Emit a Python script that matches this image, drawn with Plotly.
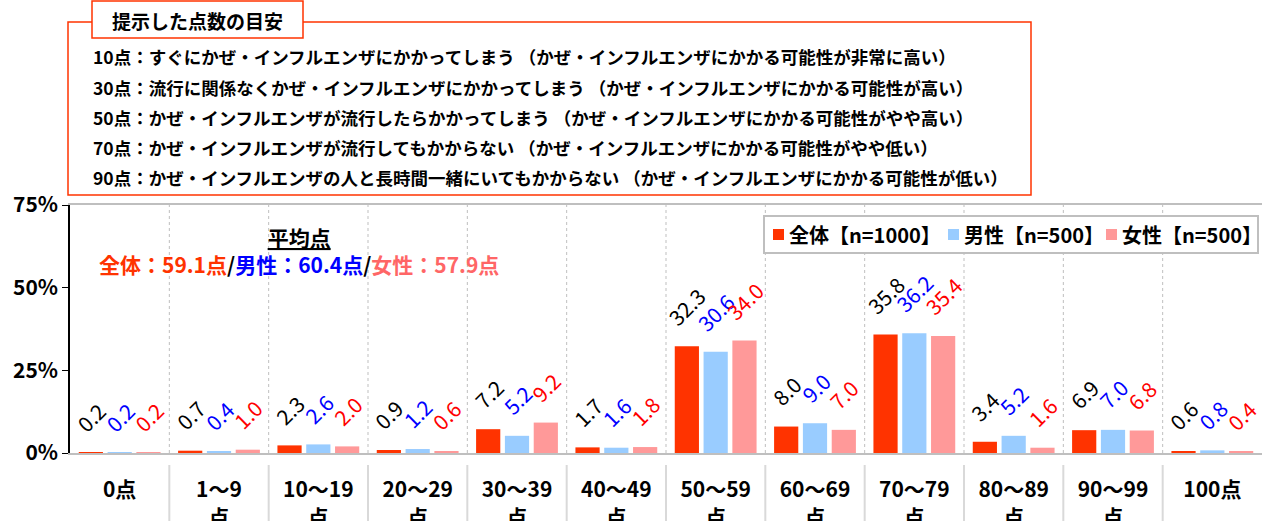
import plotly.graph_objects as go

# ---------------- data ----------------
categories = ["0点", "1～9<br>点", "10～19<br>点", "20～29<br>点", "30～39<br>点", "40～49<br>点",
              "50～59<br>点", "60～69<br>点", "70～79<br>点", "80～89<br>点", "90～99<br>点", "100点"]
total = [0.2, 0.7, 2.3, 0.9, 7.2, 1.7, 32.3, 8.0, 35.8, 3.4, 6.9, 0.6]
male = [0.2, 0.4, 2.6, 1.2, 5.2, 1.6, 30.6, 9.0, 36.2, 5.2, 7.0, 0.8]
female = [0.2, 1.0, 2.0, 0.6, 9.2, 1.8, 34.0, 7.0, 35.4, 1.6, 6.8, 0.4]
series_names = ["全体【n=1000】", "男性【n=500】", "女性【n=500】"]
y_ticks = [0, 25, 50, 75]
y_ticktext = ["0%", "25%", "50%", "75%"]

box_title = "提示した点数の目安"
box_lines = [
    "10点：すぐにかぜ・インフルエンザにかかってしまう （かぜ・インフルエンザにかかる可能性が非常に高い）",
    "30点：流行に関係なくかぜ・インフルエンザにかかってしまう （かぜ・インフルエンザにかかる可能性が高い）",
    "50点：かぜ・インフルエンザが流行したらかかってしまう （かぜ・インフルエンザにかかる可能性がやや高い）",
    "70点：かぜ・インフルエンザが流行してもかからない （かぜ・インフルエンザにかかる可能性がやや低い）",
    "90点：かぜ・インフルエンザの人と長時間一緒にいてもかからない （かぜ・インフルエンザにかかる可能性が低い）",
]
avg_title = "平均点"
avg_labels = ["全体：59.1点", "男性：60.4点", "女性：57.9点"]

# ---------------- styling ----------------
FONT = "Noto Sans CJK JP"
bar_colors = ["#FF3300", "#99CCFF", "#FF9999"]
label_colors = ["#000000", "#0000FF", "#FF0000"]
avg_colors = ["#FF3300", "#0000FF", "#FF6666"]

W, H = 1269, 521
L, R, T, B = 70, 1262, 205, 453  # plot area in pixels
BARGAP = 0.13
GROUPGAP = 0.16


def px_x(p):
    return (p - L) / (R - L)


def px_y(p):
    return (B - p) / (B - T)


xs = list(range(len(categories)))
fig = go.Figure()
for name, vals, col in zip(series_names, [total, male, female], bar_colors):
    fig.add_trace(go.Bar(x=xs, y=vals, name=name, marker=dict(color=col, line=dict(width=0)),
                         hoverinfo="skip", showlegend=False))

annotations = []
slot = (1 - BARGAP) / 3
for k, (vals, col) in enumerate(zip([total, male, female], label_colors)):
    for i, v in enumerate(vals):
        annotations.append(dict(
            x=i + (k - 1) * slot, y=v, xref="x", yref="y",
            text=f"{v:.1f}", showarrow=False, textangle=-45,
            xanchor="center", yanchor="bottom", yshift=12,
            font=dict(family=FONT, size=21, color=col),
        ))

# average score annotation (two lines)
avg_text = ("<b><u>" + avg_title + "</u></b><br><b>" +
            "<span style='color:black'>/</span>".join(
                f"<span style='color:{c}'>{t}</span>" for t, c in zip(avg_labels, avg_colors)) + "</b>")
annotations.append(dict(
    x=px_x(299), y=px_y(250), xref="paper", yref="paper", showarrow=False,
    text=avg_text, font=dict(family=FONT, size=21, color="black"),
    xanchor="center", yanchor="middle", align="center"))

# box text
annotations.append(dict(
    x=px_x(197), y=px_y(20), xref="paper", yref="paper", showarrow=False,
    text=f"<b>{box_title}</b>", font=dict(family=FONT, size=19, color="black"),
    xanchor="center", yanchor="middle"))
line_y = [56, 87, 117, 147, 177]
for t, yy in zip(box_lines, line_y):
    annotations.append(dict(
        x=px_x(91), y=px_y(yy), xref="paper", yref="paper", showarrow=False,
        text=f"<b>{t}</b>", font=dict(family=FONT, size=17.5, color="black"),
        xanchor="left", yanchor="middle"))

shapes = []
# outer explanation box
shapes.append(dict(type="rect", xref="paper", yref="paper",
                   x0=px_x(68), x1=px_x(1031), y0=px_y(195), y1=px_y(22),
                   line=dict(color="#FF3300", width=1.5), fillcolor="white", layer="below"))
shapes.append(dict(type="rect", xref="paper", yref="paper",
                   x0=px_x(92), x1=px_x(303), y0=px_y(38), y1=px_y(1),
                   line=dict(color="#FF3300", width=1.5), fillcolor="white", layer="above"))
# category separators
for i in range(len(categories) - 1):
    shapes.append(dict(type="line", xref="x", yref="y", x0=i + 0.5, x1=i + 0.5, y0=0, y1=75,
                       line=dict(color="#BFBFBF", width=1, dash="dot"), layer="below"))
    shapes.append(dict(type="line", xref="x", yref="paper", x0=i + 0.5, x1=i + 0.5,
                       y0=px_y(465), y1=px_y(530),
                       line=dict(color="#D9D9D9", width=2)))

# legend (box, colour squares and texts)
shapes.append(dict(type="rect", xref="paper", yref="paper",
                   x0=px_x(764), x1=px_x(1258), y0=px_y(253), y1=px_y(216),
                   line=dict(color="#BFBFBF", width=2), fillcolor="white", layer="above"))
leg_sq = [773, 948, 1106]
for name, col, sx in zip(series_names, bar_colors, leg_sq):
    shapes.append(dict(type="rect", xref="paper", yref="paper",
                       x0=px_x(sx), x1=px_x(sx + 11), y0=px_y(240), y1=px_y(229),
                       line=dict(width=0), fillcolor=col, layer="above"))
    annotations.append(dict(
        x=px_x(sx + 14), y=px_y(234.5), xref="paper", yref="paper", showarrow=False,
        text=f"<b>{name}</b>", font=dict(family=FONT, size=20, color="black"),
        xanchor="left", yanchor="middle"))

fig.update_layout(
    width=W, height=H,
    margin=dict(l=L, r=W - R, t=T, b=H - B, pad=0, autoexpand=False),
    paper_bgcolor="white", plot_bgcolor="white",
    barmode="group", bargap=BARGAP, bargroupgap=GROUPGAP,
    font=dict(family=FONT, color="black"),
    showlegend=False,
    annotations=annotations, shapes=shapes,
    xaxis=dict(tickvals=xs, ticktext=[f"<b>{c}</b>" for c in categories],
               range=[-0.5, len(categories) - 0.5], showgrid=False, zeroline=False,
               showline=True, linecolor="#BFBFBF", linewidth=2, mirror=True,
               ticks="", ticklabelstandoff=17, automargin=False,
               tickfont=dict(family=FONT, size=21, color="black")),
    yaxis=dict(range=[0, 75], tickvals=y_ticks, ticktext=[f"<b>{t}</b>" for t in y_ticktext],
               showgrid=False, zeroline=False, showline=True, linecolor="black", linewidth=1.5,
               ticks="outside", ticklen=6, tickcolor="black", tickwidth=1, automargin=False,
               tickfont=dict(family=FONT, size=21, color="black")),
)

fig.write_html("out.html", config={"displayModeBar": False},
               post_script="document.body.style.margin='0';document.body.style.overflow='hidden';")
